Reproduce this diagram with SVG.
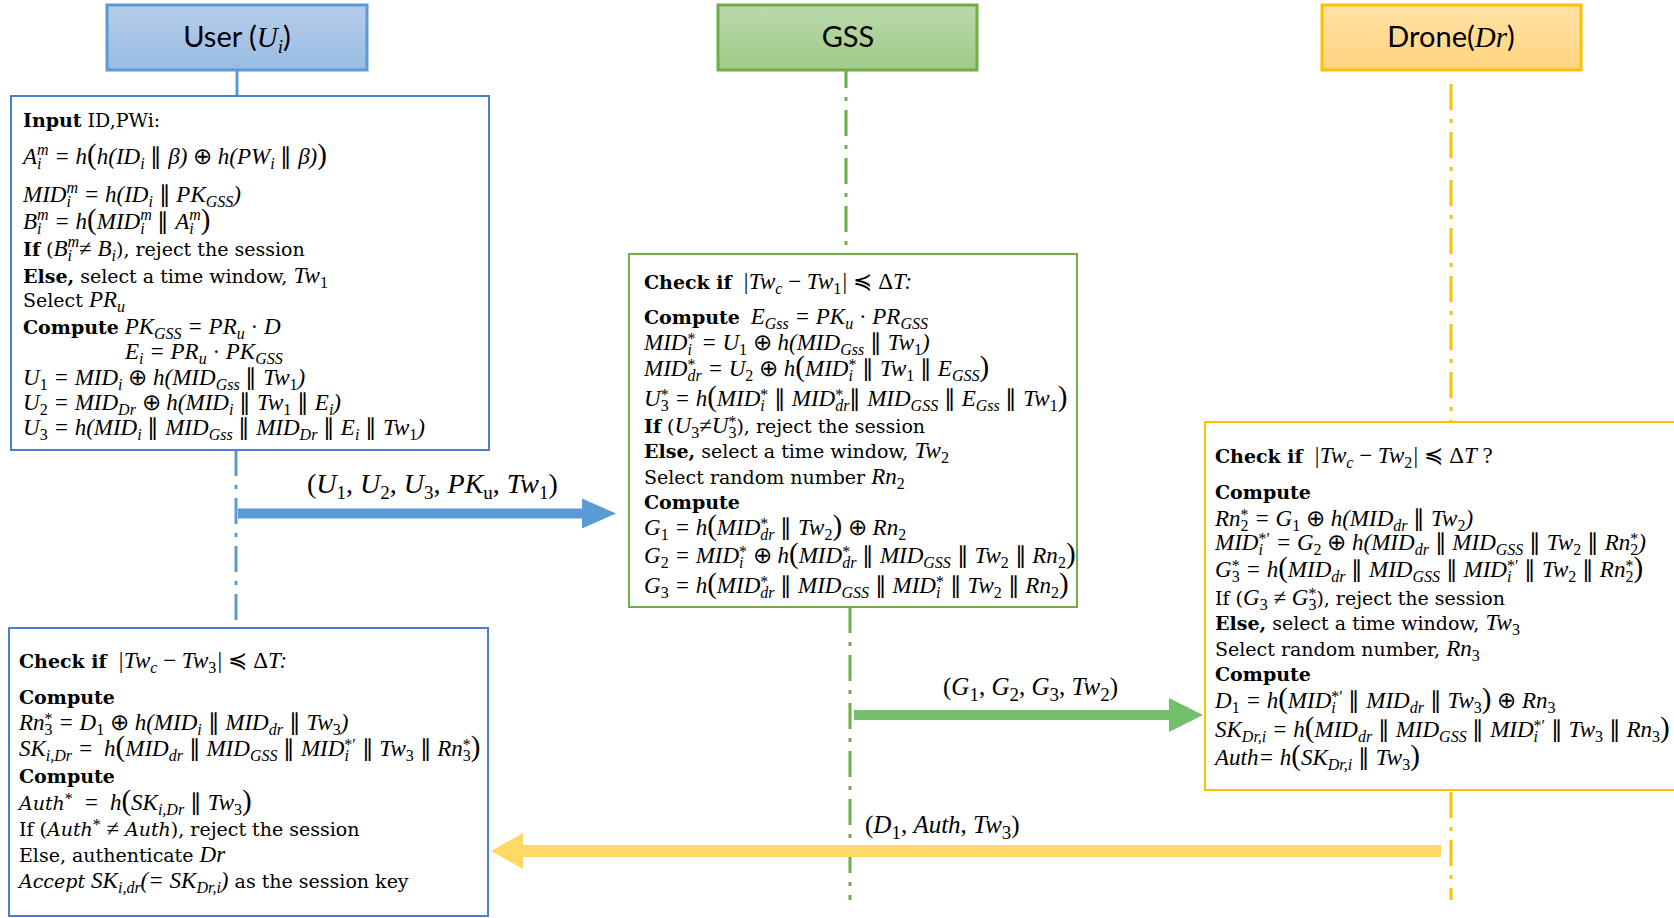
<svg xmlns="http://www.w3.org/2000/svg" width="1674" height="918" viewBox="0 0 1674 918">
<defs>
<linearGradient id="gB" x1="0" y1="0" x2="0" y2="1"><stop offset="0" stop-color="#b6cdea"/><stop offset="1" stop-color="#98bbe4"/></linearGradient>
<linearGradient id="gG" x1="0" y1="0" x2="0" y2="1"><stop offset="0" stop-color="#bad9ac"/><stop offset="1" stop-color="#9fcb88"/></linearGradient>
<linearGradient id="gO" x1="0" y1="0" x2="0" y2="1"><stop offset="0" stop-color="#ffe2a6"/><stop offset="1" stop-color="#ffd47f"/></linearGradient>
<style>
text{font-family:"Liberation Serif",serif;font-size:23px;font-style:italic;fill:#000}
.r{font-family:"DejaVu Serif",serif;font-size:19px;font-style:normal}
.ri{font-family:"DejaVu Serif",serif;font-size:19px;font-style:italic}
.b{font-family:"DejaVu Serif",serif;font-size:19px;font-style:normal;font-weight:bold}
.n{font-style:normal}
.s{font-size:16px;font-style:normal;baseline-shift:-5px}
.si{font-size:16px;baseline-shift:-5px}
.p{font-size:16px;font-style:normal;baseline-shift:6px}
.pi{font-size:16px;baseline-shift:9px}
.bp{font-size:29px;font-style:normal}
.hd{font-family:Lato,"Liberation Sans",sans-serif;font-size:29px;font-style:normal}
.hs{font-size:19px;baseline-shift:-6px}
.lb{font-size:28px;font-style:normal}
.lbi{font-style:italic}
.ls{font-size:19px;font-style:normal;baseline-shift:-6px}
.bx{fill:#fff;stroke-width:2}
.ll{fill:none;stroke-width:3;stroke-dasharray:26 9 4 9}
</style>
</defs>

<g id="connectors">
<line class="ll" x1="237" y1="70" x2="237" y2="96" stroke="#5b9bd5"/>
<line class="ll" x1="236" y1="450" x2="236" y2="628" stroke="#5b9bd5"/>
<line class="ll" x1="846" y1="62" x2="846" y2="254" stroke="#70ad47"/>
<line class="ll" x1="850" y1="607" x2="850" y2="900" stroke="#70ad47"/>
<line class="ll" x1="1451" y1="84" x2="1451" y2="422" stroke="#ffc000"/>
<line class="ll" x1="1451" y1="792" x2="1451" y2="900" stroke="#ffc000"/>
<polygon points="238,508.5 582,508.5 582,498.5 616,513.5 582,528.5 582,518.5 238,518.5" fill="#5b9bd5"/>
<polygon points="854,710 1169,710 1169,698 1203,715 1169,732 1169,720 854,720" fill="#74bf6c"/>
<polygon points="1441,845 523,845 523,833 491,851 523,869 523,857 1441,857" fill="#ffd966"/>
<text x="307" y="493" class="lb">(<tspan class="lbi">U</tspan><tspan class="ls">1</tspan>, <tspan class="lbi">U</tspan><tspan class="ls">2</tspan>, <tspan class="lbi">U</tspan><tspan class="ls">3</tspan>, <tspan class="lbi">PK</tspan><tspan class="ls lbi">u</tspan>, <tspan class="lbi">Tw</tspan><tspan class="ls">1</tspan>)</text>
<text x="943" y="695" class="lb" style="font-size:25px">(<tspan class="lbi">G</tspan><tspan class="ls">1</tspan>, <tspan class="lbi">G</tspan><tspan class="ls">2</tspan>, <tspan class="lbi">G</tspan><tspan class="ls">3</tspan>, <tspan class="lbi">Tw</tspan><tspan class="ls">2</tspan>)</text>
<text x="865" y="833" class="lb" style="font-size:25px">(<tspan class="lbi">D</tspan><tspan class="ls">1</tspan>, <tspan class="lbi">Auth</tspan>, <tspan class="lbi">Tw</tspan><tspan class="ls">3</tspan>)</text>
</g>

<g id="user">
<rect x="107" y="5" width="260" height="65" fill="url(#gB)" stroke="#5b9bd5" stroke-width="3"/>
<text x="237" y="47" class="hd" text-anchor="middle">User (<tspan style="font-family:'Liberation Serif',serif;font-style:italic">U</tspan><tspan class="hs" style="font-family:'Liberation Serif',serif;font-style:italic">i</tspan>)</text>
</g>
<g id="gss">
<rect x="718" y="5" width="259" height="65" fill="url(#gG)" stroke="#70ad47" stroke-width="3"/>
<text x="848" y="47" class="hd" text-anchor="middle">GSS</text>
</g>
<g id="drone">
<rect x="1322" y="5" width="259" height="65" fill="url(#gO)" stroke="#ffc000" stroke-width="3"/>
<text x="1451" y="47" class="hd" text-anchor="middle">Drone(<tspan style="font-family:'Liberation Serif',serif;font-style:italic">Dr</tspan>)</text>
</g>

<g id="user-login">
<rect x="11" y="96" width="478" height="354" class="bx" stroke="#4a7fcf"/>
<text x="23" y="127"><tspan class="b">Input</tspan><tspan class="r"> ID,PWi:</tspan></text>
<text x="23" y="164">A<tspan class="si">i</tspan><tspan class="pi" dx="-4.5">m</tspan> = h<tspan class="bp">(</tspan>h(ID<tspan class="si">i</tspan><tspan class="n"> ∥ </tspan>β)<tspan class="n"> ⊕ </tspan>h(PW<tspan class="si">i</tspan><tspan class="n"> ∥ </tspan>β)<tspan class="bp">)</tspan></text>
<text x="23" y="202">MID<tspan class="si">i</tspan><tspan class="pi" dx="-4.5">m</tspan> = h(ID<tspan class="si">i</tspan><tspan class="n"> ∥ </tspan>PK<tspan class="si">GSS</tspan>)</text>
<text x="23" y="229">B<tspan class="si">i</tspan><tspan class="pi" dx="-4.5">m</tspan> = h<tspan class="bp">(</tspan>MID<tspan class="si">i</tspan><tspan class="pi" dx="-4.5">m</tspan><tspan class="n"> ∥ </tspan>A<tspan class="si">i</tspan><tspan class="pi" dx="-4.5">m</tspan><tspan class="bp">)</tspan></text>
<text x="23" y="256"><tspan class="b">If</tspan><tspan class="r"> (</tspan>B<tspan class="si">i</tspan><tspan class="pi" dx="-4.5">m</tspan><tspan class="n">≠ </tspan>B<tspan class="si">i</tspan><tspan class="r">), reject the session</tspan></text>
<text x="23" y="283"><tspan class="b">Else,</tspan><tspan class="r"> select a time window, </tspan>Tw<tspan class="s">1</tspan></text>
<text x="23" y="307"><tspan class="r">Select </tspan>PR<tspan class="si">u</tspan></text>
<text x="23" y="334"><tspan class="b">Compute</tspan> PK<tspan class="si">GSS</tspan> = PR<tspan class="si">u</tspan><tspan class="n"> · </tspan>D</text>
<text x="125" y="359">E<tspan class="si">i</tspan> = PR<tspan class="si">u</tspan><tspan class="n"> · </tspan>PK<tspan class="si">GSS</tspan></text>
<text x="23" y="385">U<tspan class="s">1</tspan> = MID<tspan class="si">i</tspan><tspan class="n"> ⊕ </tspan>h(MID<tspan class="si">Gss</tspan><tspan class="n"> ∥ </tspan>Tw<tspan class="s">1</tspan>)</text>
<text x="23" y="410">U<tspan class="s">2</tspan> = MID<tspan class="si">Dr</tspan><tspan class="n"> ⊕ </tspan>h(MID<tspan class="si">i</tspan><tspan class="n"> ∥ </tspan>Tw<tspan class="s">1</tspan><tspan class="n"> ∥ </tspan>E<tspan class="si">i</tspan>)</text>
<text x="23" y="435">U<tspan class="s">3</tspan> = h(MID<tspan class="si">i</tspan><tspan class="n"> ∥ </tspan>MID<tspan class="si">Gss</tspan><tspan class="n"> ∥ </tspan>MID<tspan class="si">Dr</tspan><tspan class="n"> ∥ </tspan>E<tspan class="si">i</tspan><tspan class="n"> ∥ </tspan>Tw<tspan class="s">1</tspan>)</text>
</g>

<g id="gss-verify">
<rect x="629" y="254" width="448" height="353" class="bx" stroke="#70ad47"/>
<text x="644" y="289"><tspan class="b">Check if</tspan> <tspan dx="5">|Tw</tspan><tspan class="si">c</tspan><tspan class="n"> − </tspan>Tw<tspan class="s">1</tspan>|<tspan class="n"> ≼ Δ</tspan>T:</text>
<text x="644" y="324"><tspan class="b">Compute</tspan> <tspan dx="5">E</tspan><tspan class="si">Gss</tspan> = PK<tspan class="si">u</tspan><tspan class="n"> · </tspan>PR<tspan class="si">GSS</tspan></text>
<text x="644" y="350">MID<tspan class="si">i</tspan><tspan class="p" dx="-4.5">*</tspan> = U<tspan class="s">1</tspan><tspan class="n"> ⊕ </tspan>h(MID<tspan class="si">Gss</tspan><tspan class="n"> ∥ </tspan>Tw<tspan class="s">1</tspan>)</text>
<text x="644" y="376">MID<tspan class="si">dr</tspan><tspan class="p" dx="-14.2">*</tspan><tspan dx="6.2"> = U</tspan><tspan class="s">2</tspan><tspan class="n"> ⊕ </tspan>h<tspan class="bp">(</tspan>MID<tspan class="si">i</tspan><tspan class="p" dx="-4.5">*</tspan><tspan class="n"> ∥ </tspan>Tw<tspan class="s">1</tspan><tspan class="n"> ∥ </tspan>E<tspan class="si">GSS</tspan><tspan class="bp">)</tspan></text>
<text x="644" y="406">U<tspan class="s">3</tspan><tspan class="p" dx="-8">*</tspan> = h<tspan class="bp">(</tspan>MID<tspan class="si">i</tspan><tspan class="p" dx="-4.5">*</tspan><tspan class="n"> ∥ </tspan>MID<tspan class="si">dr</tspan><tspan class="p" dx="-14.2">*</tspan><tspan class="n" dx="6.2">∥ </tspan>MID<tspan class="si">GSS</tspan><tspan class="n"> ∥ </tspan>E<tspan class="si">Gss</tspan><tspan class="n"> ∥ </tspan>Tw<tspan class="s">1</tspan><tspan class="bp">)</tspan></text>
<text x="644" y="433"><tspan class="b">If</tspan><tspan class="r"> (</tspan>U<tspan class="s">3</tspan><tspan class="n">≠</tspan>U<tspan class="s">3</tspan><tspan class="p" dx="-8">*</tspan><tspan class="r">), reject the session</tspan></text>
<text x="644" y="458"><tspan class="b">Else,</tspan><tspan class="r"> select a time window, </tspan>Tw<tspan class="s">2</tspan></text>
<text x="644" y="484"><tspan class="r">Select random number </tspan>Rn<tspan class="s">2</tspan></text>
<text x="644" y="509"><tspan class="b">Compute</tspan></text>
<text x="644" y="535">G<tspan class="s">1</tspan> = h<tspan class="bp">(</tspan>MID<tspan class="si">dr</tspan><tspan class="p" dx="-14.2">*</tspan><tspan class="n" dx="6.2"> ∥ </tspan>Tw<tspan class="s">2</tspan><tspan class="bp">)</tspan><tspan class="n"> ⊕ </tspan>Rn<tspan class="s">2</tspan></text>
<text x="644" y="563">G<tspan class="s">2</tspan> = MID<tspan class="si">i</tspan><tspan class="p" dx="-4.5">*</tspan><tspan class="n"> ⊕ </tspan>h<tspan class="bp">(</tspan>MID<tspan class="si">dr</tspan><tspan class="p" dx="-14.2">*</tspan><tspan class="n" dx="6.2"> ∥ </tspan>MID<tspan class="si">GSS</tspan><tspan class="n"> ∥ </tspan>Tw<tspan class="s">2</tspan><tspan class="n"> ∥ </tspan>Rn<tspan class="s">2</tspan><tspan class="bp">)</tspan></text>
<text x="644" y="593">G<tspan class="s">3</tspan> = h<tspan class="bp">(</tspan>MID<tspan class="si">dr</tspan><tspan class="p" dx="-14.2">*</tspan><tspan class="n" dx="6.2"> ∥ </tspan>MID<tspan class="si">GSS</tspan><tspan class="n"> ∥ </tspan>MID<tspan class="si">i</tspan><tspan class="p" dx="-4.5">*</tspan><tspan class="n"> ∥ </tspan>Tw<tspan class="s">2</tspan><tspan class="n"> ∥ </tspan>Rn<tspan class="s">2</tspan><tspan class="bp">)</tspan></text>
</g>

<g id="drone-verify">
<rect x="1205" y="422" width="480" height="368" class="bx" stroke="#ffc000"/>
<text x="1215" y="463"><tspan class="b">Check if</tspan> <tspan dx="5">|Tw</tspan><tspan class="si">c</tspan><tspan class="n"> − </tspan>Tw<tspan class="s">2</tspan>|<tspan class="n"> ≼ Δ</tspan>T<tspan class="n"> ?</tspan></text>
<text x="1215" y="499"><tspan class="b">Compute</tspan></text>
<text x="1215" y="526">Rn<tspan class="s">2</tspan><tspan class="p" dx="-8">*</tspan> = G<tspan class="s">1</tspan><tspan class="n"> ⊕ </tspan>h(MID<tspan class="si">dr</tspan><tspan class="n"> ∥ </tspan>Tw<tspan class="s">2</tspan>)</text>
<text x="1215" y="550">MID<tspan class="si">i</tspan><tspan class="p" dx="-4.5">*′</tspan> = G<tspan class="s">2</tspan><tspan class="n"> ⊕ </tspan>h(MID<tspan class="si">dr</tspan><tspan class="n"> ∥ </tspan>MID<tspan class="si">GSS</tspan><tspan class="n"> ∥ </tspan>Tw<tspan class="s">2</tspan><tspan class="n"> ∥ </tspan>Rn<tspan class="s">2</tspan><tspan class="p" dx="-8">*</tspan>)</text>
<text x="1215" y="577">G<tspan class="s">3</tspan><tspan class="p" dx="-8">*</tspan> = h<tspan class="bp">(</tspan>MID<tspan class="si">dr</tspan><tspan class="n"> ∥ </tspan>MID<tspan class="si">GSS</tspan><tspan class="n"> ∥ </tspan>MID<tspan class="si">i</tspan><tspan class="p" dx="-4.5">*′</tspan><tspan class="n"> ∥ </tspan>Tw<tspan class="s">2</tspan><tspan class="n"> ∥ </tspan>Rn<tspan class="s">2</tspan><tspan class="p" dx="-8">*</tspan><tspan class="bp">)</tspan></text>
<text x="1215" y="605"><tspan class="r">If (</tspan>G<tspan class="s">3</tspan><tspan class="n"> ≠ </tspan>G<tspan class="s">3</tspan><tspan class="p" dx="-8">*</tspan><tspan class="r">), reject the session</tspan></text>
<text x="1215" y="630"><tspan class="b">Else,</tspan><tspan class="r"> select a time window, </tspan>Tw<tspan class="s">3</tspan></text>
<text x="1215" y="656"><tspan class="r">Select random number, </tspan>Rn<tspan class="s">3</tspan></text>
<text x="1215" y="681"><tspan class="b">Compute</tspan></text>
<text x="1215" y="708">D<tspan class="s">1</tspan> = h<tspan class="bp">(</tspan>MID<tspan class="si">i</tspan><tspan class="p" dx="-4.5">*′</tspan><tspan class="n"> ∥ </tspan>MID<tspan class="si">dr</tspan><tspan class="n"> ∥ </tspan>Tw<tspan class="s">3</tspan><tspan class="bp">)</tspan><tspan class="n"> ⊕ </tspan>Rn<tspan class="s">3</tspan></text>
<text x="1215" y="737">SK<tspan class="si">Dr,i</tspan> = h<tspan class="bp">(</tspan>MID<tspan class="si">dr</tspan><tspan class="n"> ∥ </tspan>MID<tspan class="si">GSS</tspan><tspan class="n"> ∥ </tspan>MID<tspan class="si">i</tspan><tspan class="p" dx="-4.5">*′</tspan><tspan class="n"> ∥ </tspan>Tw<tspan class="s">3</tspan><tspan class="n"> ∥ </tspan>Rn<tspan class="s">3</tspan><tspan class="bp">)</tspan></text>
<text x="1215" y="765">Auth= h<tspan class="bp">(</tspan>SK<tspan class="si">Dr,i</tspan><tspan class="n"> ∥ </tspan>Tw<tspan class="s">3</tspan><tspan class="bp">)</tspan></text>
</g>

<g id="user-verify">
<rect x="9" y="628" width="479" height="288" class="bx" stroke="#4a7fcf"/>
<text x="19" y="668"><tspan class="b">Check if</tspan> <tspan dx="5">|Tw</tspan><tspan class="si">c</tspan><tspan class="n"> − </tspan>Tw<tspan class="s">3</tspan>|<tspan class="n"> ≼ Δ</tspan>T:</text>
<text x="19" y="704"><tspan class="b">Compute</tspan></text>
<text x="19" y="730">Rn<tspan class="s">3</tspan><tspan class="p" dx="-8">*</tspan> = D<tspan class="s">1</tspan><tspan class="n"> ⊕ </tspan>h(MID<tspan class="si">i</tspan><tspan class="n"> ∥ </tspan>MID<tspan class="si">dr</tspan><tspan class="n"> ∥ </tspan>Tw<tspan class="s">3</tspan>)</text>
<text x="19" y="756">SK<tspan class="si">i,Dr</tspan> = <tspan dx="5">h</tspan><tspan class="bp">(</tspan>MID<tspan class="si">dr</tspan><tspan class="n"> ∥ </tspan>MID<tspan class="si">GSS</tspan><tspan class="n"> ∥ </tspan>MID<tspan class="si">i</tspan><tspan class="p" dx="-4.5">*′</tspan><tspan class="n"> ∥ </tspan>Tw<tspan class="s">3</tspan><tspan class="n"> ∥ </tspan>Rn<tspan class="s">3</tspan><tspan class="p" dx="-8">*</tspan><tspan class="bp">)</tspan></text>
<text x="19" y="783"><tspan class="b">Compute</tspan></text>
<text x="19" y="810"><tspan class="ri">Auth</tspan><tspan class="p">*</tspan><tspan dx="5"> = </tspan><tspan dx="5">h</tspan><tspan class="bp">(</tspan>SK<tspan class="si">i,Dr</tspan><tspan class="n"> ∥ </tspan>Tw<tspan class="s">3</tspan><tspan class="bp">)</tspan></text>
<text x="19" y="836"><tspan class="r">If (</tspan><tspan class="ri">Auth</tspan><tspan class="p">*</tspan><tspan class="n"> ≠ </tspan><tspan class="ri">Auth</tspan><tspan class="r">), reject the session</tspan></text>
<text x="19" y="862"><tspan class="r">Else, authenticate </tspan>Dr</text>
<text x="19" y="888"><tspan class="ri">Accept </tspan>SK<tspan class="si">i,dr</tspan>(= SK<tspan class="si">Dr,i</tspan>)<tspan class="r"> as the session key</tspan></text>
</g>
</svg>
